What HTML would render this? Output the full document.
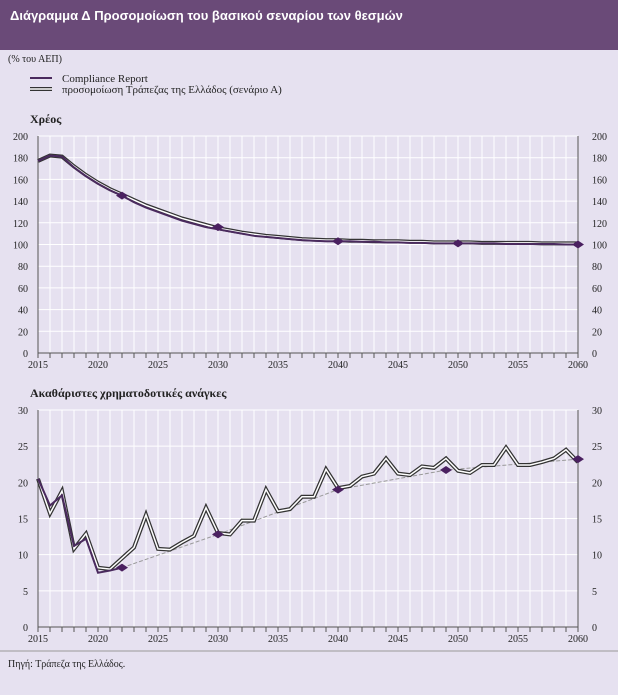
<!DOCTYPE html>
<html><head><meta charset="utf-8"><style>
body{margin:0;width:618px;height:695px;background:#e6e1f0;font-family:"Liberation Serif",serif;overflow:hidden;position:relative}
.hdr{position:absolute;left:0;top:0;width:618px;height:50px;background:#6a4a78}
.hdr span{position:absolute;left:10px;top:8px;color:#fff;font:bold 13px "Liberation Sans",sans-serif}
svg{position:absolute;left:0;top:0}
</style></head><body>
<div class="hdr"><span>Διάγραμμα Δ  Προσομοίωση του βασικού σεναρίου των θεσμών</span></div>
<svg id="s" width="618" height="695"></svg>
<script>
const years=[];for(let y=2015;y<=2060;y++)years.push(y);
const debtBoG=[177,182,181,172,164,157,151,146,141,136,132,128,124,121,118,115,113,111,109.5,108,107,106,105,104.5,104,104,103.5,103.5,103,103,103,102.5,102.5,102,102,102,102,101.5,101.5,101.5,101.5,101.5,101,101,101,101];
const debtCR=[177,182,181,171,163,156,150,145,139,134,130,126,122,119,116,114,112,110,108,107,106,105,104,103.5,103,103,103,102.5,102.5,102,102,101.5,101.5,101,101,101,101,101,101,100.5,100.5,100.5,100.5,100.5,100,100];
const debtMarkYears=[2022,2030,2040,2050,2060];
const debtMarkVals=[145,116,103,101,100];
const needBoG=[20.5,15.7,18.8,10.8,12.9,8.2,8,9.5,11,15.5,10.8,10.7,11.7,12.6,16.5,13,12.8,14.7,14.7,19,16,16.3,18,18,21.8,19.2,19.5,20.8,21.2,23.3,21.2,21,22.2,22,23.3,21.6,21.3,22.4,22.4,24.8,22.4,22.4,22.8,23.3,24.5,22.8];
const needCRYears=[2015,2016,2017,2018,2019,2020,2021,2022];
const needCRVals=[20.5,16.8,18.2,11.2,12.2,7.5,7.8,8.2];
const needMarkYears=[2022,2030,2040,2049,2060];
const needMarkVals=[8.2,12.8,19,21.7,23.2];
const debtTicks=[0,20,40,60,80,100,120,140,160,180,200];
const needTicks=[0,5,10,15,20,25,30];
const xLabels=[2015,2020,2025,2030,2035,2040,2045,2050,2055,2060];

const s=document.getElementById('s');const NS='http://www.w3.org/2000/svg';
function el(t,a,txt){const e=document.createElementNS(NS,t);for(const k in a)e.setAttribute(k,a[k]);if(txt!==undefined)e.textContent=txt;s.appendChild(e);return e;}
const X0=38,X1=578;const x=y=>X0+(y-2015)*(X1-X0)/45;
el('text',{x:8,y:62,'font-size':10,fill:'#222'},'(% του ΑΕΠ)');
el('line',{x1:30,x2:52,y1:78,y2:78,stroke:'#4a2a5e','stroke-width':2});
el('line',{x1:30,x2:52,y1:89,y2:89,stroke:'#333','stroke-width':4});
el('line',{x1:30,x2:52,y1:89,y2:89,stroke:'#fff','stroke-width':1.5});
let t=el('text',{x:62,y:82,'font-size':11,fill:'#222'},'Compliance Report');

t=el('text',{x:62,y:93,'font-size':11,fill:'#222'},'προσομοίωση Τράπεζας της Ελλάδος (σενάριο Α)');


function chart(name,title,titleY,top,bot,ticks,max,bogVals,crYears,crVals,mY,mV,dashed){
  const yy=v=>bot-(v/max)*(bot-top);
  let tt=el('text',{x:30,y:titleY,'font-size':12,'font-weight':'bold',fill:'#222'},title);
  
  years.forEach(y=>{const l=el('line',{x1:x(y),x2:x(y),y1:top,y2:bot,stroke:'#fff','stroke-width':1});});
  ticks.forEach(v=>{el('line',{x1:X0,x2:X1,y1:yy(v),y2:yy(v),stroke:'#fff','stroke-width':1});
    el('text',{x:X0-10,y:yy(v)+4,'font-size':10,fill:'#222','text-anchor':'end'},v);
    el('text',{x:X1+14,y:yy(v)+4,'font-size':10,fill:'#222'},v);});
  el('line',{x1:X0,x2:X0,y1:top,y2:bot,stroke:'#555'});
  el('line',{x1:X1,x2:X1,y1:top,y2:bot,stroke:'#555'});
  el('line',{x1:X0,x2:X1,y1:bot,y2:bot,stroke:'#555'});
  years.forEach(y=>el('line',{x1:x(y),x2:x(y),y1:bot,y2:bot+5,stroke:'#555'}));
  xLabels.forEach(y=>el('text',{x:x(y),y:bot+15,'font-size':10,fill:'#222','text-anchor':'middle'},y));
  if(dashed){const d=el('polyline',{points:mY.map((y,i)=>x(y)+','+yy(mV[i])).join(' '),fill:'none',stroke:'#999','stroke-width':1,'stroke-dasharray':'4,2'});
    }
  const pts=years.map((y,i)=>x(y)+','+yy(bogVals[i])).join(' ');
  let a=el('polyline',{points:pts,fill:'none',stroke:'#333','stroke-width':4,'stroke-linejoin':'miter'});
  
  el('polyline',{points:pts,fill:'none',stroke:'#fff','stroke-width':1.5});
  let c=el('polyline',{points:crYears.map((y,i)=>x(y)+','+yy(crVals[i])).join(' '),fill:'none',stroke:'#4a2a5e','stroke-width':2});
  
  mY.forEach((y,i)=>{const cx=x(y),cy=yy(mV[i]);
    const m=el('polygon',{points:`${cx-6},${cy} ${cx},${cy-4} ${cx+6},${cy} ${cx},${cy+4}`,fill:'#4a2060'});
    });
}
chart('debt','Χρέος',123,136,353,debtTicks,200,debtBoG,years,debtCR,debtMarkYears,debtMarkVals,false);
chart('needs','Ακαθάριστες χρηματοδοτικές ανάγκες',397,410,627,needTicks,30,needBoG,needCRYears,needCRVals,needMarkYears,needMarkVals,true);
el('line',{x1:0,x2:618,y1:651,y2:651,stroke:'#999'});
t=el('text',{x:8,y:667,'font-size':10,fill:'#222'},'Πηγή: Τράπεζα της Ελλάδος.');

</script>
</body></html>
